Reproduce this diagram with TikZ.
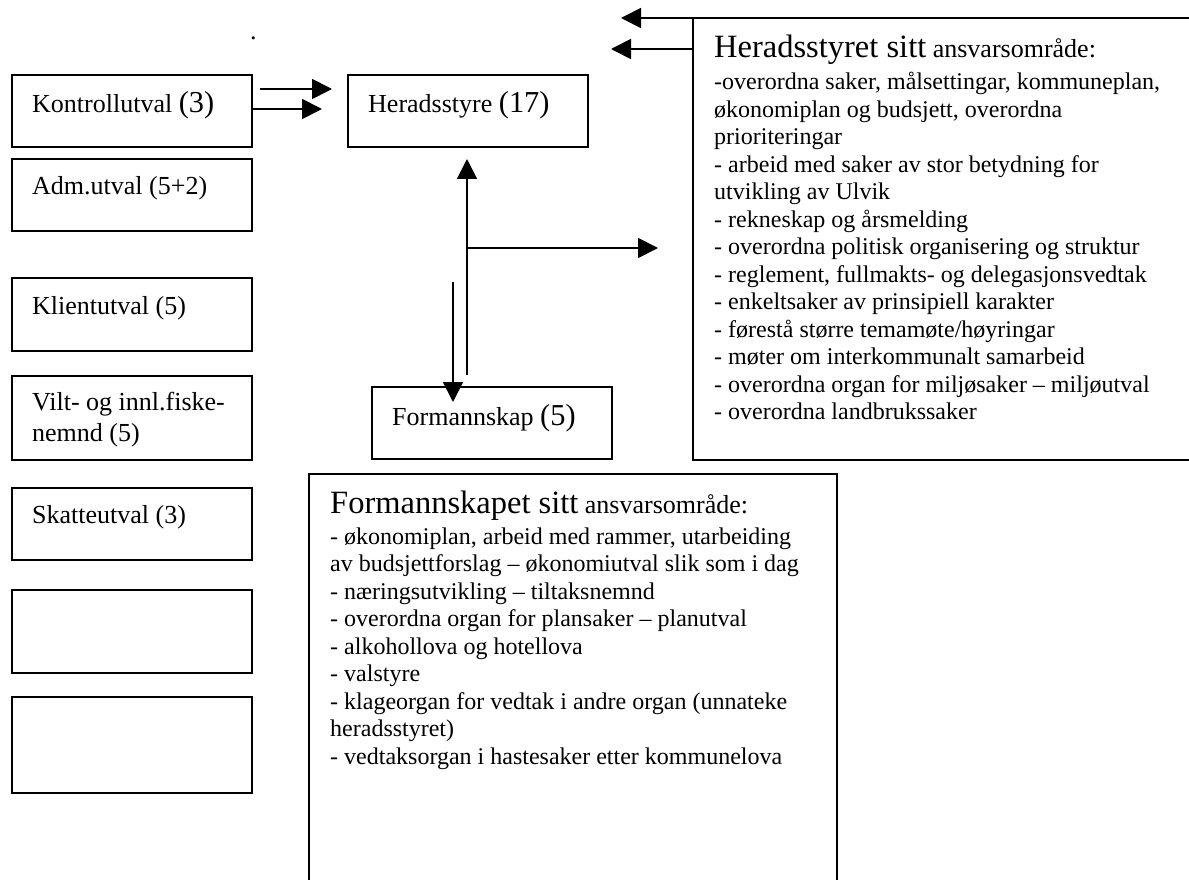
\documentclass[tikz,border=0pt]{standalone}
\usepackage{fontspec}
\setmainfont{Liberation Serif}
\usetikzlibrary{arrows.meta}
\newcommand\txtn{\fontsize{24}{27.5}\selectfont}
\newcommand\txtl{\fontsize{26}{31}\selectfont}
\newcommand\txtb{\fontsize{30.4}{34}\selectfont}
\newcommand\txth{\fontsize{32.5}{36}\selectfont}
\tikzset{
  box/.style={draw, line width=1.8pt, rectangle, minimum width=240pt, anchor=north west, inner sep=0pt},
  lbl/.style={anchor=base west, inner sep=0pt, font=\txtl},
  para/.style={anchor=base west, inner sep=0pt, font=\txtn, text width=560pt, align=flush left},
  arr/.style={line width=1.8pt, -{Triangle[length=20pt,width=20pt]}},
  edge/.style={line width=1.8pt}
}
\begin{document}
\begin{tikzpicture}[x=1pt,y=-1pt]
\useasboundingbox (0,0) rectangle (1189,880);
% left column
\node[box, minimum height=72pt] (kontroll) at (10.7,74) {};
\node[box, minimum height=72pt] (adm) at (10.7,158) {};
\node[box, minimum height=73pt] (klient) at (10.7,277) {};
\node[box, minimum height=84pt] (vilt) at (10.7,375) {};
\node[box, minimum height=72pt] (skatte) at (10.7,487) {};
\node[box, minimum height=83pt] (tom1) at (10.7,589) {};
\node[box, minimum height=96pt] (tom2) at (10.7,696) {};
\node[lbl] (kontrolltxt) at (32,113) {Kontrollutval {\txtb(3)}};
\node[lbl] (admtxt) at (32,194) {Adm.utval (5+2)};
\node[lbl] (klienttxt) at (32,314) {Klientutval (5)};
\node[lbl, text width=220pt, align=flush left] (vilttxt) at (32,410) {Vilt- og innl.fiske-\\nemnd (5)};
\node[lbl] (skattetxt) at (32,523) {Skatteutval (3)};
\node[lbl] (dot) at (250,40) {.};
% centre boxes
\node[box, minimum height=72pt] (herad) at (347,74) {};
\node[lbl] (heradtxt) at (368,113) {Heradsstyre {\txtb(17)}};
\node[box, minimum height=72pt] (form) at (371,386) {};
\node[lbl] (formtxt) at (392,425) {Formannskap {\txtb(5)}};
% right box (open on the right)
\coordinate (rtr) at (1195,18);
\coordinate (rtl) at (693,18);
\coordinate (rbl) at (693,460);
\coordinate (rbr) at (1195,460);
\draw[edge] (rtr) -- (rtl) -- (rbl) -- (rbr);
\node[lbl] (hshead) at (714,58) {{\txth Heradsstyret sitt} ansvarsområde:};
\node[para] (hsbody) at (714,90) {-overordna saker, målsettingar, kommuneplan,\\
økonomiplan og budsjett, overordna\\
prioriteringar\\
- arbeid med saker av stor betydning for\\
utvikling av Ulvik\\
- rekneskap og årsmelding\\
- overordna politisk organisering og struktur\\
- reglement, fullmakts- og delegasjonsvedtak\\
- enkeltsaker av prinsipiell karakter\\
- førestå større temamøte/høyringar\\
- møter om interkommunalt samarbeid\\
- overordna organ for miljøsaker – miljøutval\\
- overordna landbrukssaker};
% bottom box (open at the bottom)
\coordinate (fbl) at (309,890);
\coordinate (ftl) at (309,474);
\coordinate (ftr) at (837,474);
\coordinate (fbr) at (837,890);
\draw[edge] (fbl) -- (ftl) -- (ftr) -- (fbr);
\node[lbl] (fshead) at (330,513) {{\txth Formannskapet sitt} ansvarsområde:};
\node[para] (fsbody) at (330,544) {- økonomiplan, arbeid med rammer, utarbeiding\\
av budsjettforslag – økonomiutval slik som i dag\\
- næringsutvikling – tiltaksnemnd\\
- overordna organ for plansaker – planutval\\
- alkohollova og hotellova\\
- valstyre\\
- klageorgan for vedtak i andre organ (unnateke\\
heradsstyret)\\
- vedtaksorgan i hastesaker etter kommunelova};
% connectors
\coordinate (k1s) at (260,89);
\coordinate (k1e) at (332,89);
\coordinate (k2e) at (322,109);
\draw[arr] (k1s) -- (k1e);
\draw[arr] (kontroll.east |- k2e) -- (k2e);
\coordinate (upS) at (467,375);
\coordinate (upE) at (467,159);
\coordinate (brS) at (467,248);
\coordinate (brE) at (658,248);
\draw[arr] (upS) -- (upE);
\draw[arr] (brS) -- (brE);
\coordinate (dnS) at (453,282);
\coordinate (dnE) at (453,402);
\draw[arr] (dnS) -- (dnE);
\coordinate (l1e) at (621,18);
\coordinate (l2s) at (693,49);
\coordinate (l2e) at (611,49);
\draw[arr] (rtl) -- (l1e);
\draw[arr] (l2s) -- (l2e);
\end{tikzpicture}
\end{document}
